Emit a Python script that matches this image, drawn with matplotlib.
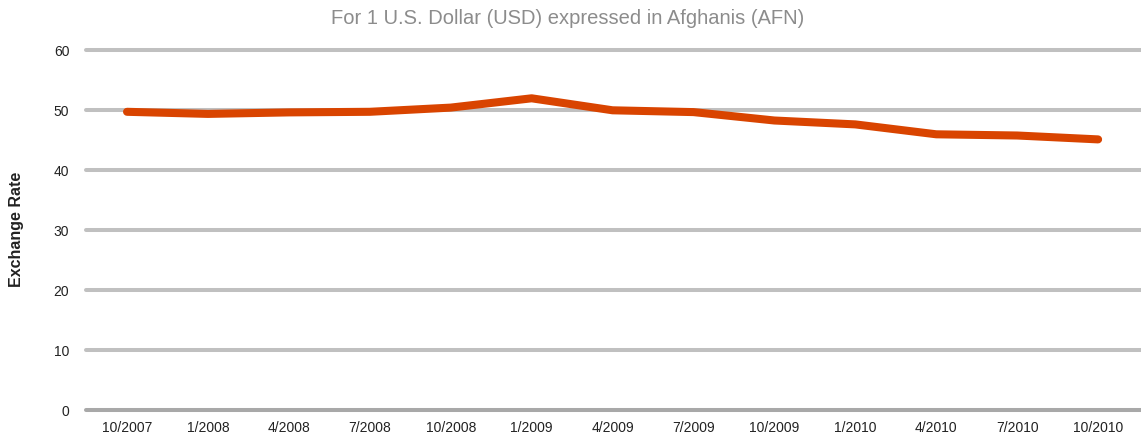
import matplotlib.pyplot as plt

plt.rcParams['font.family'] = ['Liberation Sans', 'DejaVu Sans']

dates = ['10/2007', '1/2008', '4/2008', '7/2008', '10/2008', '1/2009', '4/2009',
         '7/2009', '10/2009', '1/2010', '4/2010', '7/2010', '10/2010']
rates = [49.7, 49.35, 49.6, 49.7, 50.4, 51.95, 49.95, 49.65, 48.25, 47.6, 45.95, 45.75, 45.1]
yticks = [0, 10, 20, 30, 40, 50, 60]

fig = plt.figure(figsize=(11.41, 4.41), dpi=100)
ax = fig.add_axes([86 / 1141, 31 / 441, 1 - 86 / 1141, 360 / 441])

x = list(range(len(dates)))
for t in yticks:
    ax.axhline(t, color='#c0c0c0' if t else '#a8a8a8', lw=2.9, solid_capstyle='round',
               clip_on=False, zorder=1)
ax.plot(x, rates, color='#d94400', lw=5.8, solid_capstyle='round',
        solid_joinstyle='round', zorder=3)

ax.set_xlim(-0.507, 12.53)
ax.set_ylim(0, 60)
ax.set_xticks(x)
ax.set_xticklabels(dates)
ax.set_yticks(yticks)
ax.tick_params(length=0, labelsize=10, colors='#222222')
ax.tick_params(axis='y', pad=12)
ax.tick_params(axis='x', pad=8)
for s in ax.spines.values():
    s.set_visible(False)

fig.text(568 / 1141, 1 - 19 / 441, 'For 1 U.S. Dollar (USD) expressed in Afghanis (AFN)',
         ha='center', va='center', fontsize=14.5, color='#8c8c8c')
fig.text(17 / 1141, 1 - 229 / 441, 'Exchange Rate', rotation=90, ha='center', va='center',
         fontsize=11.5, fontweight='bold', color='#222222')

fig.savefig('out.png', dpi=100)
